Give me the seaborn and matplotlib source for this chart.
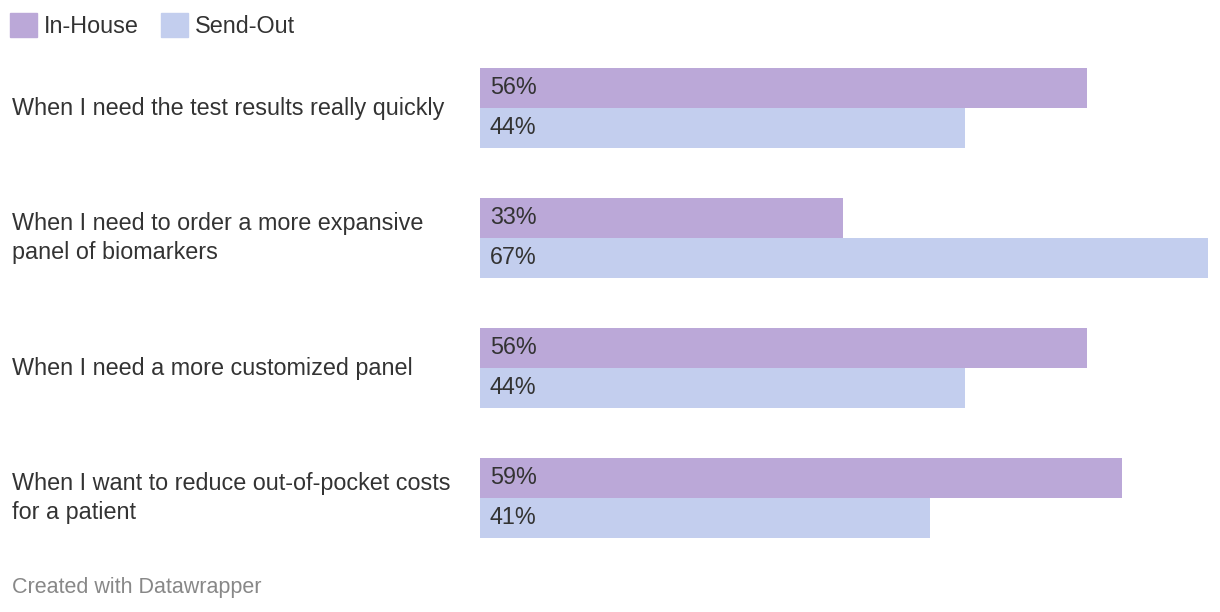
import numpy as np
import pandas as pd
import matplotlib
matplotlib.use("Agg")
import matplotlib.pyplot as plt
import matplotlib.transforms as mtransforms
import seaborn as sns

# ---------------------------------------------------------------------------
# Data (shares in %, labels shown rounded)
# ---------------------------------------------------------------------------
questions = [
    "When I need the test results really quickly",
    "When I need to order a more expansive\npanel of biomarkers",
    "When I need a more customized panel",
    "When I want to reduce out-of-pocket costs\nfor a patient",
]
series = ["In-House", "Send-Out"]
in_house = [55.6, 33.3, 55.6, 58.8]
send_out = [44.4, 66.7, 44.4, 41.2]

colors = {"In-House": "#bba8d8", "Send-Out": "#c3ceee"}
text_color = "#333333"

df = pd.DataFrame({
    "question": questions * 2,
    "source": [series[0]] * len(questions) + [series[1]] * len(questions),
    "value": in_house + send_out,
})

# ---------------------------------------------------------------------------
# Plot
# ---------------------------------------------------------------------------
sns.set_style("white")
plt.rcParams["font.family"] = ["Liberation Sans", "DejaVu Sans"]

W, H = 1220, 612
fig = plt.figure(figsize=(W / 100, H / 100), dpi=100)
bar_top, bar_bottom = 68, 538
ax = fig.add_axes([480 / W, 1 - bar_bottom / H, 728 / W, (bar_bottom - bar_top) / H])

bar_w = 80 / 130
sns.barplot(data=df, y="question", x="value", hue="source", orient="h",
            palette=colors, hue_order=series, order=questions,
            width=bar_w, saturation=1, dodge=True, ax=ax, legend=False,
            linewidth=0, edgecolor="none")

ax.set_xlim(0, df["value"].max())
ax.set_ylim(len(questions) - 1 + bar_w / 2, -bar_w / 2)
ax.axis("off")

fs = 16.8
for cont in ax.containers:
    for rect in cont:
        v = rect.get_width()
        ax.annotate(f"{v:.0f}%", (0, rect.get_y() + rect.get_height() / 2),
                    xytext=(7.2, 0), textcoords="offset points",
                    va="center", ha="left", fontsize=fs, color=text_color)

trans = mtransforms.blended_transform_factory(fig.transFigure, ax.transData)
for i, q in enumerate(questions):
    ax.text(12 / W, i, q, transform=trans, ha="left", va="center",
            fontsize=fs, color=text_color, linespacing=1.3)

handles = [plt.Rectangle((0, 0), 1, 1, color=colors[s]) for s in series]
fig.legend(handles, series, loc="upper left", bbox_to_anchor=(10 / W, 1 - 13 / H),
           ncol=2, frameon=False, fontsize=fs, handlelength=1.15, handleheight=1.2,
           handletextpad=0.3, columnspacing=0.95, borderpad=0, borderaxespad=0,
           labelcolor=text_color)

fig.text(12 / W, 1 - 587 / H, "Created with Datawrapper", ha="left", va="center",
         fontsize=15.5, color="#888888")

fig.savefig("out.png", dpi=100)
